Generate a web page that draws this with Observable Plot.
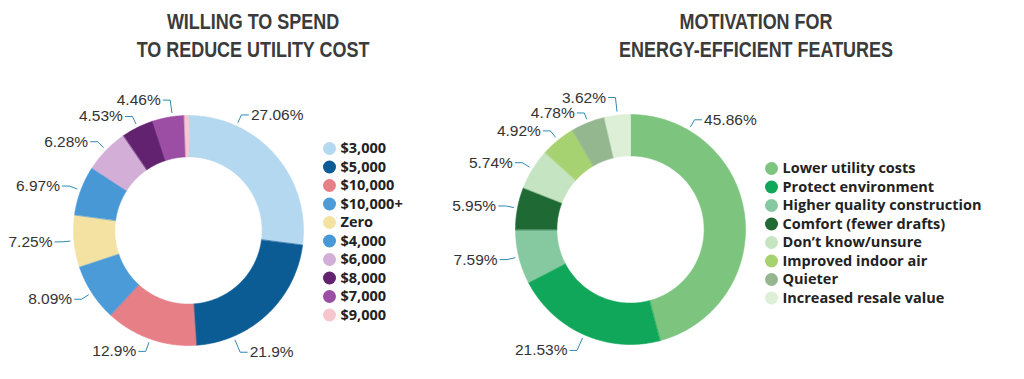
<!DOCTYPE html>
<html><head><meta charset="utf-8">
<script src="https://cdn.jsdelivr.net/npm/d3@7"></script>
<script src="https://cdn.jsdelivr.net/npm/@observablehq/plot@0.6"></script>
<style>
body{margin:0;background:#fff;}
#wrap{position:relative;width:1024px;height:379px;overflow:hidden;background:#fff;}
.title{position:absolute;top:8px;font-family:"Liberation Sans","Arial",sans-serif;font-weight:bold;font-size:22px;line-height:28px;color:#3b3b3b;text-align:center;white-space:nowrap;transform:translateX(-50%) scaleX(0.816);transform-origin:50% 0;}
.chart{position:absolute;top:72px;}
</style></head>
<body><div id="wrap"></div>
<script>
// ---------- DATA ----------
const spendTitle = ["WILLING TO SPEND", "TO REDUCE UTILITY COST"];
const spendCategories = ["$3,000", "$5,000", "$10,000", "$10,000+", "Zero", "$4,000", "$6,000", "$8,000", "$7,000", "$9,000"];
const spendValues = [27.06, 21.9, 12.9, 8.09, 7.25, 6.97, 6.28, 4.53, 4.46, 0.56];
const spendColors = ["#b5d8f1", "#0b5b95", "#e67f86", "#4a9bd8", "#f3e2a1", "#4898d6", "#d3aed7", "#62226f", "#9b4ea4", "#f5c6cb"];
const spendShowLabel = [true, true, true, true, true, true, true, true, true, false];

const motiveTitle = ["MOTIVATION FOR", "ENERGY-EFFICIENT FEATURES"];
const motiveCategories = ["Lower utility costs", "Protect environment", "Higher quality construction", "Comfort (fewer drafts)", "Don’t know/unsure", "Improved indoor air", "Quieter", "Increased resale value"];
const motiveValues = [45.86, 21.53, 7.59, 5.95, 5.74, 4.92, 4.78, 3.62];
const motiveColors = ["#7dc57f", "#10a75a", "#86c9a1", "#1f6a34", "#c5e4c2", "#a6d272", "#95b790", "#ddefd7"];
const motiveShowLabel = [true, true, true, true, true, true, true, true];

// ---------- LAYOUT ----------
// leader angle overrides (degrees clockwise from top; null = slice middle)
const spendLabelAngle = [24.6, 157, null, null, null, null, null, null, 352, null];
const motiveLabelAngle = [30.3, null, null, null, null, null, null, null];
// leader elbow radius overrides (fraction of outer radius; null = default)
const spendElbow = [null, 1.15, 1.115, null, null, null, null, null, 1.145, null];
const motiveElbow = [null, 1.15, null, null, null, null, 1.09, 1.155];

const wrap = document.getElementById("wrap");

function donut(cfg) {
  const {categories, values, colors, showLabel, labelAngle, elbow, title, titleX, legendSpacing,
         left, width, height, cx, cy, r, ratio, legendX, legendY0, legendStep} = cfg;
  const arcs = d3.pie().sort(null).value(d => d)(values);
  const pt = (a, rr) => [rr * Math.sin(a), -rr * Math.cos(a)];

  const slices = arcs.map((p, i) => {
    const n = Math.max(2, Math.ceil((p.endAngle - p.startAngle) / (Math.PI / 360)));
    const outer = d3.range(n + 1).map(k => pt(p.startAngle + (p.endAngle - p.startAngle) * k / n, 1));
    const inner = outer.slice().reverse().map(([x, y]) => [x * ratio, y * ratio]);
    return {type: "Feature", properties: {category: categories[i]},
            geometry: {type: "Polygon", coordinates: [[...outer, ...inner, outer[0]]]}};
  });

  const hlen = 7 / r, gap = 2.5 / r;
  const leaders = [], labels = [];
  arcs.forEach((p, i) => {
    if (!showLabel[i]) return;
    const a = labelAngle[i] != null ? labelAngle[i] * Math.PI / 180 : (p.startAngle + p.endAngle) / 2;
    const side = Math.sin(a) >= 0 ? 1 : -1;
    const p0 = pt(a, 1.035), p1 = pt(a, elbow[i] != null ? elbow[i] : 1.105);
    const p2 = [p1[0] + side * hlen, p1[1]];
    [p0, p1, p2].forEach(([x, y]) => leaders.push({key: i, x, y}));
    labels.push({text: `${values[i]}%`, x: p2[0] + side * gap, y: p2[1], side});
  });

  const legend = categories.map((c, i) => ({
    category: c,
    x: (legendX - cx) / r,
    y: (legendY0 + i * legendStep - cy) / r
  }));

  const labelFont = {fill: "#333", fontFamily: "Liberation Sans, Arial, sans-serif", fontSize: 15.5, ariaLabel: "pct-label"};

  const plot = Plot.plot({
    width, height,
    marginLeft: cx - r, marginRight: width - cx - r,
    marginTop: cy - r, marginBottom: height - cy - r,
    projection: {type: "identity", domain: {type: "MultiPoint", coordinates: [[-1, -1], [1, 1]]}, clip: false},
    color: {domain: categories, range: colors},
    style: {overflow: "visible", background: "transparent"},
    marks: [
      Plot.geo(slices, {fill: d => d.properties.category, stroke: d => d.properties.category, strokeWidth: 0.6}),
      Plot.line(leaders, {x: "x", y: "y", z: "key", stroke: "#2f8ab0", strokeWidth: 1, curve: "linear"}),
      Plot.text(labels.filter(d => d.side > 0), {x: "x", y: "y", text: "text", textAnchor: "start", ...labelFont}),
      Plot.text(labels.filter(d => d.side < 0), {x: "x", y: "y", text: "text", textAnchor: "end", ...labelFont}),
      Plot.dot(legend, {x: "x", y: "y", r: 6.5, fill: "category"}),
      Plot.text(legend, {x: "x", y: "y", text: "category", dx: 11, textAnchor: "start", fill: "#222",
        fontFamily: "Open Sans, sans-serif", fontWeight: "bold", fontSize: 14.5, ariaLabel: "legend-label"})
    ]
  });
  // condense the percentage labels horizontally (narrow face not installed)
  plot.querySelectorAll('g[aria-label="pct-label"] text').forEach(t => {
    const tr = t.getAttribute("transform") || "";
    t.setAttribute("transform", tr + " scale(0.84,1)");
  });
  plot.querySelectorAll('g[aria-label="legend-label"]').forEach(g => g.style.letterSpacing = legendSpacing + "px");
  plot.classList.add("chart");
  plot.style.left = left + "px";
  wrap.appendChild(plot);

  const t = document.createElement("div");
  t.className = "title";
  t.style.left = titleX + "px";
  t.innerHTML = title.map(s => `<div>${s}</div>`).join("");
  wrap.appendChild(t);
}

donut({categories: spendCategories, values: spendValues, colors: spendColors, showLabel: spendShowLabel,
  labelAngle: spendLabelAngle, elbow: spendElbow, title: spendTitle, titleX: 253, legendSpacing: 1.2,
  left: 0, width: 440, height: 307, cx: 188, cy: 158, r: 115, ratio: 0.64,
  legendX: 329, legendY0: 76, legendStep: 18.5});

donut({categories: motiveCategories, values: motiveValues, colors: motiveColors, showLabel: motiveShowLabel,
  labelAngle: motiveLabelAngle, elbow: motiveElbow, title: motiveTitle, titleX: 756, legendSpacing: 0,
  left: 440, width: 584, height: 307, cx: 190, cy: 157, r: 115, ratio: 0.64,
  legendX: 331, legendY0: 96, legendStep: 18.5});
</script>
</body></html>
